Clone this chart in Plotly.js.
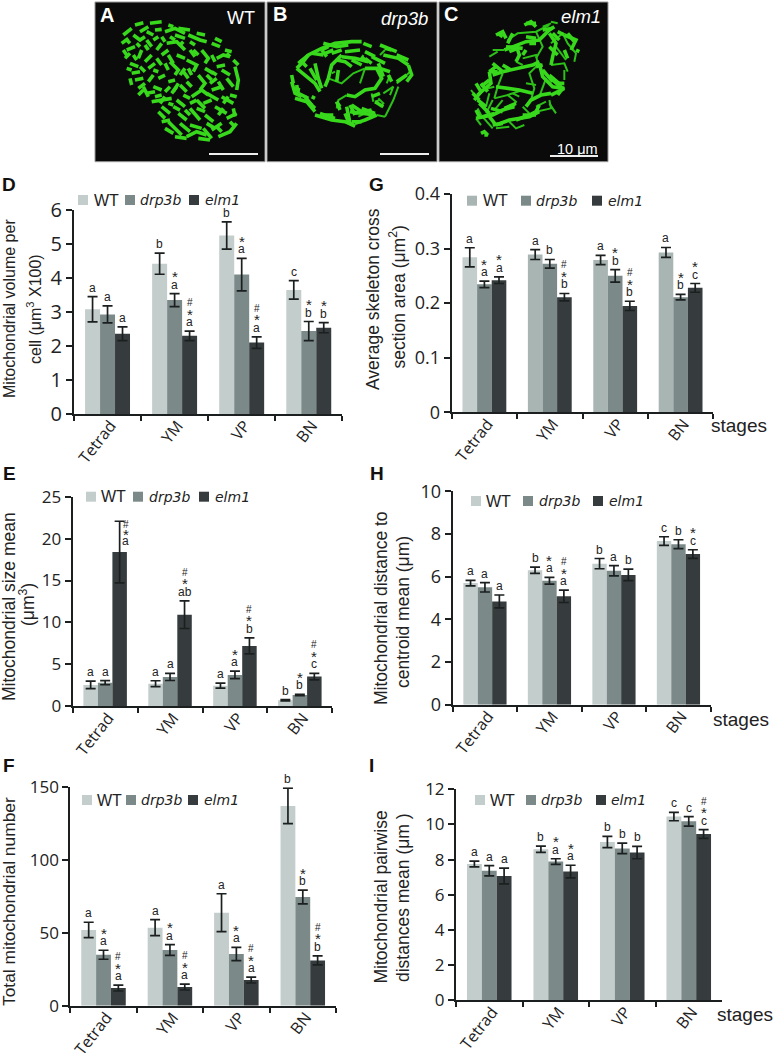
<!DOCTYPE html>
<html>
<head>
<meta charset="utf-8">
<script src="https://cdn.plot.ly/plotly-3.0.1.min.js"></script>
<style>html,body{margin:0;padding:0;background:#fff}#chart{width:774px;height:1053px}</style>
</head>
<body>
<div id="chart"></div>
<script>
const stages = ['Tetrad','YM','VP','BN'];
const seriesNames = ['WT','drp3b','elm1'];

const D_WT = [3.08,4.42,5.25,3.65];     const D_WT_err = [0.37,0.31,0.40,0.27];
const D_DRP = [2.93,3.35,4.10,2.44];    const D_DRP_err = [0.25,0.19,0.48,0.28];
const D_ELM = [2.36,2.30,2.10,2.54];    const D_ELM_err = [0.20,0.14,0.17,0.15];
const D_sig = [['a','b','b','c'],['a','a *','a *','b *'],['a','a * #','a * #','b *']];

const E_WT = [2.55,2.70,2.46,0.72];     const E_WT_err = [0.45,0.35,0.30,0.08];
const E_DRP = [2.82,3.50,3.74,1.35];    const E_DRP_err = [0.25,0.42,0.45,0.08];
const E_ELM = [18.4,10.93,7.20,3.54];   const E_ELM_err = [3.67,1.65,0.95,0.38];
const E_sig = [['a','a','a','b'],['a','a','a *','b *'],['a * #','ab * #','b * #','c * #']];

const F_WT = [52,53.6,63.9,137.2];      const F_WT_err = [5.3,5.5,13,12.2];
const F_DRP = [35,38.2,35.5,74.7];      const F_DRP_err = [3.1,3.7,4.5,4.7];
const F_ELM = [12.1,12.8,17.6,31.1];    const F_ELM_err = [2,2,2,3.1];
const F_sig = [['a','a','a','b'],['a *','a *','a *','b *'],['a * #','a * #','a * #','b * #']];

const G_WT = [0.284,0.289,0.279,0.293]; const G_WT_err = [0.0175,0.009,0.0085,0.009];
const G_DRP = [0.2345,0.272,0.25,0.211];const G_DRP_err = [0.006,0.008,0.0115,0.005];
const G_ELM = [0.242,0.211,0.195,0.228];const G_ELM_err = [0.006,0.0067,0.0085,0.008];
const G_sig = [['a','a','a','a'],['a *','b','b *','b *'],['a *','b * #','b * #','c *']];

const H_WT = [5.70,6.30,6.61,7.67];     const H_WT_err = [0.13,0.15,0.24,0.20];
const H_DRP = [5.50,5.81,6.28,7.52];    const H_DRP_err = [0.22,0.16,0.24,0.21];
const H_ELM = [4.84,5.08,6.08,7.06];    const H_ELM_err = [0.30,0.29,0.27,0.20];
const H_sig = [['a','b','b','c'],['a','a *','a','b'],['a','a * #','b','c *']];

const I_WT = [7.75,8.59,9.00,10.45];    const I_WT_err = [0.16,0.18,0.32,0.24];
const I_DRP = [7.37,7.89,8.64,10.18];   const I_DRP_err = [0.29,0.16,0.30,0.27];
const I_ELM = [7.07,7.32,8.40,9.46];    const I_ELM_err = [0.45,0.36,0.35,0.25];
const I_sig = [['a','b','b','c'],['a','a *','b','c'],['a','a *','b','c * #']];

// Micrograph filaments (panel-local units)
const cellA = [[100,105,125,85],[95,130,115,115],[135,75,160,68],[150,95,175,80],[180,70,215,65],[195,90,215,88],[130,105,150,120,165,110],[170,120,185,140],[110,150,135,140],[105,175,120,160],[155,150,145,175],[190,120,205,110],[225,95,255,85,285,100],[255,105,285,115],[295,105,330,120,350,125],[230,130,260,125,285,150],[200,150,215,130],[185,165,165,185],[120,190,145,200],[125,220,150,215],[135,240,160,235],[175,205,195,190],[215,165,235,150],[240,185,265,210,255,225],[290,180,320,195,310,215],[335,150,355,175,345,190],[365,130,390,140],[380,175,400,165,420,170],[410,160,420,170],[380,200,405,195],[345,205,370,220],[435,200,445,240,440,270],[410,235,430,260],[385,245,400,270],[325,225,345,250,330,270],[290,245,305,260],[270,255,290,275],[235,245,255,240],[205,235,225,225],[190,260,215,270],[170,280,195,275],[185,305,220,300,245,295],[215,320,240,340],[260,300,285,320],[305,290,335,270,355,285],[350,280,385,300],[395,290,430,310],[375,320,410,340],[340,310,365,300],[300,325,330,360],[265,340,290,360],[235,365,265,395,275,405],[225,385,250,400],[300,375,335,385],[290,410,320,395,350,405],[325,415,360,420],[365,390,395,370],[385,410,420,395,440,370],[420,365,435,380],[345,345,370,365],[410,355,440,340],[250,275,265,250],[225,290,210,310],[145,265,165,250],[175,245,190,225],[280,215,295,235],[360,250,380,235],[400,310,415,290],[320,300,300,310],
[110,120,120,130],[140,130,150,140],[130,165,140,180],[165,135,175,150],[150,200,165,215],[190,210,205,215],[110,205,125,210],[215,110,225,125],[240,110,255,120],[300,125,315,135],[270,135,280,125],[300,150,315,170],[260,165,285,175],[235,210,225,190],[200,175,215,195],[270,225,285,205],[250,190,235,165],[325,165,310,150],[365,165,375,185],[395,210,420,225],[365,240,350,225],[305,225,295,205],[160,260,175,290],[195,290,215,285],[240,260,225,275],[260,260,245,280],[280,285,300,295],[320,325,345,335],[365,270,395,260],[420,285,440,290],[400,325,385,345],[350,370,375,385],[300,345,285,330],[250,320,270,330],[235,310,250,315],[205,335,225,355],[215,365,240,360],[270,370,300,395],[255,410,290,415],[340,385,365,415],[395,395,380,380],[430,325,435,350],[320,300,345,325],[365,215,380,225],[120,235,125,255],[145,285,160,270],[100,150,110,165],[170,95,190,105],[235,75,250,80],[265,85,300,90],[320,100,345,105],[375,115,395,125],[405,150,425,155],[430,180,445,195]];
const cellB = [[100,190,130,165,170,145,210,130,260,125,290,125],[130,165,115,185,95,205],[95,205,120,225,150,250,165,275],[150,190,160,235,170,265],[185,170,170,150],[205,150,180,160],[230,165,200,195,190,235,180,260],[230,170,270,175,310,185],[240,155,285,150],[300,155,330,170],[345,135,395,155],[355,165,400,175,430,195],[320,170,360,190],[430,195,440,225,425,245],[80,245,90,280,110,290],[85,265,105,270],[90,295,125,305,150,335],[120,290,140,315],[150,345,200,360,240,365,270,378],[165,340,210,355],[245,320,255,370,270,378],[225,320,215,305],[255,335,290,340,330,345],[270,370,300,360,335,345],[255,315,270,345],[270,340,320,330],[300,205,335,205,350,235,330,265,300,270,270,290,245,285],[340,190,355,230],[220,210,215,245],[170,150,190,140],
[140,160,175,165],[175,130,215,140,250,135],[295,130,320,140],[360,145,380,150],[395,165,430,180],[105,180,125,200],[135,205,155,240],[215,180,240,185,260,200],[260,180,290,195],[200,160,230,150],[300,175,320,190],[290,170,305,185],[80,225,85,250],[95,255,100,280],[100,280,130,295],[130,305,150,325],[175,345,205,345],[215,305,225,330],[240,340,250,365],[260,315,290,335],[290,325,330,340],[260,365,290,365],[140,290,150,295],
[345,205,375,215],[370,225,380,245],[395,245,425,225],[320,290,345,280],[330,305,355,320]];
const cellBThin = [[285,250,300,205],[375,225,365,250],[355,280,385,260,375,285],[395,250,415,235,435,215],[340,295,355,310,345,320],[330,305,345,300],[360,350,385,300,400,260],[335,345,360,350],[190,235,230,250,265,220,300,205],[245,285,220,300,215,325],[200,220,210,215],[295,165,285,180],[360,150,345,165],[320,280,325,305],[300,340,280,350]];
const cellC = [[265,75,285,65,300,80],[180,105,200,95,210,115],[205,150,240,135,270,125,310,120,340,90,355,80],[340,100,360,130,350,170,345,195],[385,105,420,120,405,150],[240,135,250,165,240,185],[200,215,240,205,290,195,310,185],[310,190,320,230,350,260,385,265],[350,240,380,265,365,285],[160,215,165,250,125,285],[120,250,135,275,115,300],[130,310,160,340],[120,355,170,345,200,330,235,320],[165,325,200,335],[180,375,220,360,280,350,310,335],[160,350,180,375],[280,345,300,335,310,315],[270,320,285,300,315,285,345,280],[135,400,145,395,155,405,145,405],[345,285,385,265],[180,260,215,265,250,270,290,280],[180,200,160,215,185,215],
[270,70,300,70],[185,100,200,110],[210,140,260,145],[270,110,300,115],[320,90,350,85],[350,100,370,120],[395,100,415,125],[340,140,365,165],[245,145,220,155],[170,225,200,215],[135,260,160,240],[110,280,130,300],[125,300,150,320],[140,350,175,340],[205,325,240,310],[260,345,300,345],[340,225,375,255],[360,250,385,250],[320,210,350,245],[300,200,320,195],[170,375,200,370],[240,360,280,345],[200,195,225,210],[170,190,200,215],[135,250,155,275],[120,330,130,350],[270,150,260,165],[280,130,300,130],[230,100,215,130],
[385,150,395,175],[385,105,365,95],[420,150,430,155]];
const cellCThin = [[215,120,245,100,300,95,340,75],[300,95,320,140,300,175],[240,185,260,195],[260,175,300,165,305,190],[170,150,205,150],[160,170,185,155],[310,190,280,220,295,265,285,300],[200,220,185,260,175,295],[175,295,215,285,240,305,230,325],[125,325,135,345,170,385],[220,365,240,385,265,375],[300,335,345,325,340,300],[345,195,385,190,395,215],[345,130,380,100,395,130,420,160,415,185],[360,140,390,180],[345,65,365,70],[320,80,345,70],[385,210,385,240],[330,235,310,290],[105,270,120,290],[215,285,260,270],[120,355,135,375],[180,385,220,380],
[170,300,150,340],[200,300,175,330],[230,280,250,290],[270,250,300,255],[340,310,360,340],[300,320,330,305],[260,320,280,340],[160,280,150,320],[135,270,175,260]];

const W = 774, H = 1053;
const COL = ['#c3cdcb','#7b8a89','#363c3d'];
const SANS = 'Liberation Sans, Arial, sans-serif';
const TICK = 'Open Sans, sans-serif';
const INK = '#1b1f1f';

const panels = [
  {id:'D',box:[74,342.3,210,414],   vals:[D_WT,D_DRP,D_ELM],errs:[D_WT_err,D_DRP_err,D_ELM_err],sig:D_sig,max:6,  dtick:1,  fs:20,legY:200,  leg:[78,93,125,139,189,204]},
  {id:'E',box:[72.7,332.3,496.7,706.3],vals:[E_WT,E_DRP,E_ELM],errs:[E_WT_err,E_DRP_err,E_ELM_err],sig:E_sig,max:25, dtick:5,  fs:17,legY:496.7,leg:[86,100,133,148,199,214]},
  {id:'F',box:[70.3,336,787.3,1005.7],vals:[F_WT,F_DRP,F_ELM],errs:[F_WT_err,F_DRP_err,F_ELM_err],sig:F_sig,max:150,dtick:50, fs:17,legY:800,  leg:[82,96,126,140,188,203]},
  {id:'G',box:[451.7,713.3,194,412.3],vals:[G_WT,G_DRP,G_ELM],errs:[G_WT_err,G_DRP_err,G_ELM_err],sig:G_sig,max:0.4,dtick:0.1,fs:18,legY:200.7,leg:[467,482,521,535,592,607]},
  {id:'H',box:[452.7,710.7,491.3,704.7],vals:[H_WT,H_DRP,H_ELM],errs:[H_WT_err,H_DRP_err,H_ELM_err],sig:H_sig,max:10, dtick:2,  fs:18,legY:501,  leg:[471,485,523,538,593,608]},
  {id:'I',box:[456,722,789.3,1000.3],vals:[I_WT,I_DRP,I_ELM],errs:[I_WT_err,I_DRP_err,I_ELM_err],sig:I_sig,max:12, dtick:2,  fs:17,legY:800,  leg:[475,489,526,540,596,610]}
];

const traces = [], annotations = [], shapes = [], layout = {};
const BARGAP = 0.33, STEP = (1-BARGAP)/3;
const dom = (a,b,t) => t ? [1-b/H, 1-a/H] : [a/W, b/W];

function text(x,y,s,o){
  annotations.push(Object.assign({xref:'paper',yref:'paper',x:x/W,y:1-y/H,text:s,showarrow:false,
    xanchor:'center',yanchor:'middle',borderpad:0,font:{family:SANS,size:16,color:'#222'}},o||{}));
}
function rotText(x,y,s,size){ text(x,y,s,{textangle:-90,font:{family:SANS,size:size,color:'#222'}}); }

panels.forEach((p,i)=>{
  const n = i+1, xa = n===1?'x':'x'+n, ya = n===1?'y':'y'+n;
  layout['xaxis'+(n===1?'':n)] = {domain:dom(p.box[0],p.box[1]),anchor:ya,type:'category',categoryorder:'array',categoryarray:stages,
    range:[-0.5,3.5],tickson:'boundaries',ticks:'outside',ticklen:5,tickwidth:2,tickcolor:INK,showline:true,linewidth:2,linecolor:INK,
    showgrid:false,zeroline:false,tickangle:-52,ticklabelstandoff:-6,ticklabelshift:3,tickfont:{family:TICK,size:16,color:'#222'},automargin:false,fixedrange:true};
  layout['yaxis'+(n===1?'':n)] = {domain:dom(p.box[2],p.box[3],true),anchor:xa,range:[0,p.max],dtick:p.dtick,tick0:0,ticks:'outside',ticklen:6,tickwidth:2,
    tickcolor:INK,showline:true,linewidth:2,linecolor:INK,showgrid:false,zeroline:false,tickfont:{family:TICK,size:p.fs,color:'#222'},automargin:false,fixedrange:true};
  p.vals.forEach((v,s)=>{
    const color = (p.id==='G'&&s===0) ? ['#c3cdcb','#a9b5b3','#a9b5b3','#a9b5b3'] : COL[s];
    traces.push({type:'bar',name:seriesNames[s],x:stages,y:v,xaxis:xa,yaxis:ya,showlegend:false,hoverinfo:'skip',
      marker:{color:color,line:{width:0}},
      error_y:{type:'data',array:p.errs[s],visible:true,color:INK,thickness:1.7,width:5}});
    v.forEach((val,c)=>{
      let base = val+p.errs[s][c], dx = (s-1)*STEP;
      let extra = 0, xs = 0, stp = 8.5;
      if(p.id==='E'&&s===2&&c===0){ base = val; xs = 6; extra = 2; stp = 7; }
      p.sig[s][c].split(' ').forEach((tok,k)=>{
        const sh = tok==='*' ? -1 : (tok==='#' ? 5 : 1);
        annotations.push({xref:xa,yref:ya,x:c+dx,y:base,text:tok,showarrow:false,xanchor:'center',yanchor:'bottom',
          xshift:xs,yshift:extra+k*stp+sh,borderpad:0,
          font:{family:SANS,size:tok==='#'?10:(tok==='*'?15:12),color:'#222'}});
      });
    });
  });
  // key
  const L = p.leg;
  [0,2,4].forEach((q,s)=>{
    const cy = 1-p.legY/H;
    const c = (p.id==='G'&&s===0) ? '#a9b5b3' : COL[s];
    shapes.push({type:'rect',xref:'paper',yref:'paper',x0:L[q]/W,x1:(L[q]+10)/W,y0:cy-5/H,y1:cy+5/H,fillcolor:c,line:{width:0}});
    const lab = s===0?'WT':'<i>'+seriesNames[s]+'</i>';
    text(L[q+1],p.legY,lab,{xanchor:'left',font:{family:s===0?SANS:'DejaVu Sans, sans-serif',size:s===0?16:14,color:'#222'}});
  });
  text(p.id==='G'||p.id==='H'?(p.id==='G'?376:377):(p.id==='I'?371:9), {D:184,E:473,F:765,G:185,H:473,I:765}[p.id], '<b>'+p.id+'</b>',
    {font:{family:SANS,size:19,color:'#111'}});
});

// axis titles
rotText(10,309,'Mitochondrial volume per',16);
rotText(34,309,'cell (μm<sup>3</sup> X100)',16);
rotText(9,607,'Mitochondrial size mean',17.5);
rotText(27,605,'(μm<sup>3</sup>)',17.5);
rotText(9,902,'Total mitochondrial number',17.4);
rotText(373,299,'Average skeleton cross',17.5);
rotText(397.5,297,'section area (μm<sup>2</sup>)',17.5);
rotText(381,608,'Mitochondrial distance to',17.5);
rotText(403,612,'centroid mean (μm)',17.5);
rotText(380.5,897,'Mitochondrial pairwise',17.5);
rotText(403,897,'distances mean (μm )',17.5);
text(738.5,425.7,'stages',{font:{family:SANS,size:19,color:'#222'}});
text(740.5,719,'stages',{font:{family:SANS,size:19,color:'#222'}});
text(745,1014,'stages',{font:{family:SANS,size:19,color:'#222'}});

// micrographs
function path(list){ const x=[],y=[]; list.forEach(l=>{ for(let i=0;i<l.length;i+=2){x.push(l[i]);y.push(l[i+1]);} x.push(null);y.push(null); }); return {x,y}; }
const GREEN='#38d81c', GREEN2='#2cc018', BG='#0a0a0a';
const cells = [
  {box:[95,265],rng:[15,525],thick:cellA,thin:[],w:3.6},
  {box:[267,437],rng:[6,516],thick:cellB,thin:cellBThin,w:3.6},
  {box:[439,608],rng:[9,516],thick:cellC,thin:cellCThin,w:3.6}
];
cells.forEach((c,i)=>{
  const n = 7+i, xa='x'+n, ya='y'+n;
  layout['xaxis'+n]={domain:dom(c.box[0],c.box[1]),anchor:ya,range:c.rng,visible:false,fixedrange:true};
  layout['yaxis'+n]={domain:dom(2,161.7,true),anchor:xa,range:[485,6],visible:false,fixedrange:true};
  shapes.push({type:'rect',xref:xa+' domain',yref:ya+' domain',x0:0,x1:1,y0:0,y1:1,fillcolor:BG,line:{color:'#999',width:1},layer:'below'});
  const t=path(c.thick), h=path(c.thin);
  traces.push({type:'scatter',mode:'lines',x:h.x,y:h.y,xaxis:xa,yaxis:ya,showlegend:false,hoverinfo:'skip',connectgaps:false,line:{color:GREEN2,width:2}});
  traces.push({type:'scatter',mode:'lines',x:t.x,y:t.y,xaxis:xa,yaxis:ya,showlegend:false,hoverinfo:'skip',connectgaps:false,line:{color:GREEN,width:c.w}});
});
text(106.5,15,'<b>A</b>',{font:{family:SANS,size:20,color:'#fff'}});
text(279.5,14,'<b>B</b>',{font:{family:SANS,size:20,color:'#fff'}});
text(451,14,'<b>C</b>',{font:{family:SANS,size:20,color:'#fff'}});
text(241,18,'WT',{font:{family:SANS,size:18,color:'#fff'}});
text(404,19,'<i>drp3b</i>',{font:{family:SANS,size:18.5,color:'#fff'}});
text(581,16,'<i>elm1</i>',{font:{family:SANS,size:18.5,color:'#fff'}});
text(577,149,'10 μm',{font:{family:SANS,size:14.5,color:'#fff'}});
[[209,258,154],[380,429,154],[550,598,156]].forEach(b=>{
  shapes.push({type:'line',xref:'paper',yref:'paper',x0:b[0]/W,x1:b[1]/W,y0:1-b[2]/H,y1:1-b[2]/H,line:{color:'#eee',width:2}});
});

Object.assign(layout,{width:W,height:H,margin:{l:0,r:0,t:0,b:0},autosize:false,paper_bgcolor:'#fff',plot_bgcolor:'rgba(0,0,0,0)',
  barmode:'group',bargap:BARGAP,bargroupgap:0,showlegend:false,annotations,shapes,hovermode:false});
Plotly.newPlot('chart',traces,layout,{staticPlot:true,displayModeBar:false});
</script>
</body>
</html>
